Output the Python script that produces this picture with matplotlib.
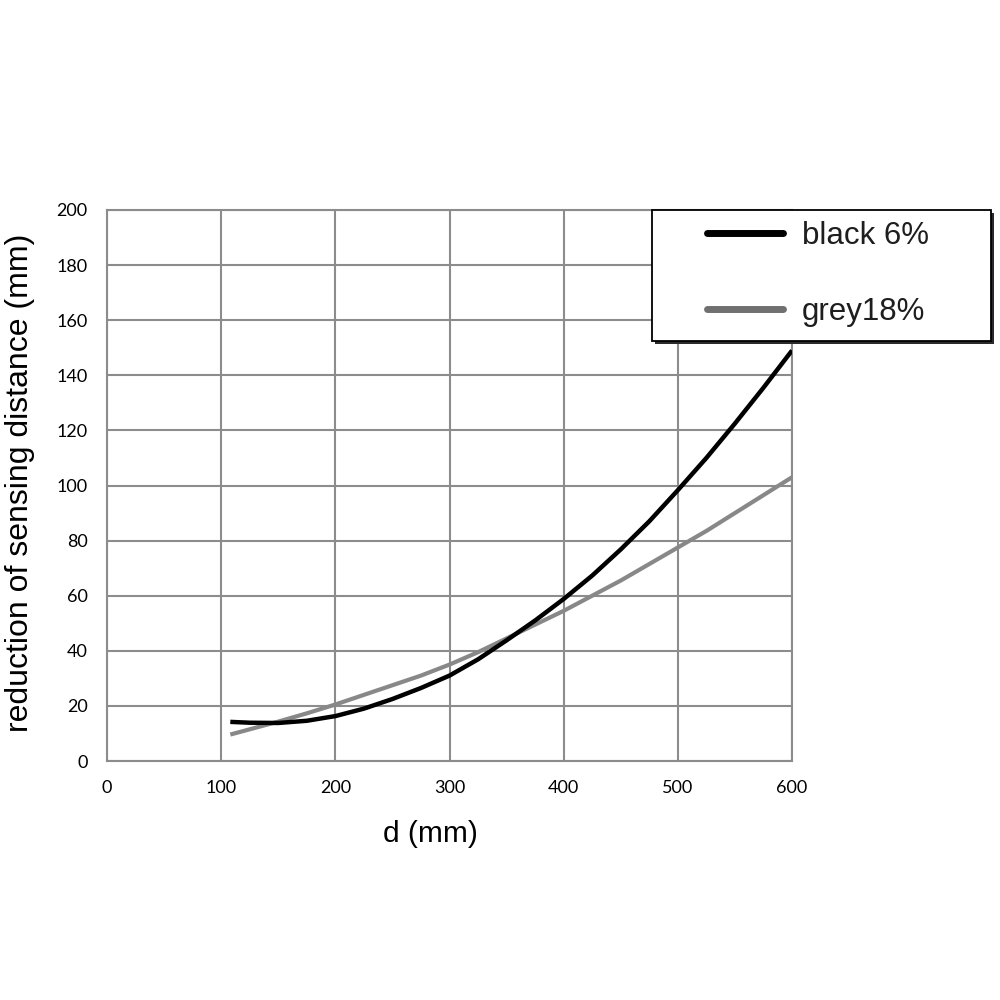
import matplotlib
matplotlib.use("Agg")
import matplotlib.pyplot as plt
from matplotlib.patches import Rectangle
from matplotlib.lines import Line2D

# Data
d_black = [108, 125, 150, 175, 200, 225, 250, 275, 300, 325, 350, 375, 400, 425, 450, 475, 500, 525, 550, 575, 600]
black_6 = [14.2, 13.9, 13.8, 14.6, 16.3, 19.0, 22.5, 26.5, 31.0, 36.9, 43.8, 51.0, 58.8, 67.3, 76.8, 87.0, 98.3, 110.0, 122.5, 135.5, 149.0]
d_grey = [108, 125, 150, 175, 200, 225, 250, 275, 300, 325, 350, 375, 400, 425, 450, 475, 500, 525, 550, 575, 600]
grey_18 = [9.6, 11.5, 14.3, 17.3, 20.5, 24.0, 27.5, 31.0, 35.0, 39.5, 44.5, 49.5, 54.5, 60.0, 65.5, 71.5, 77.5, 83.5, 90.0, 96.5, 103.0]
x_ticks = [0, 100, 200, 300, 400, 500, 600]
y_ticks = [0, 20, 40, 60, 80, 100, 120, 140, 160, 180, 200]
series_names = ["black 6%", "grey18%"]
series_colors = ["#000000", "#707070"]

fig = plt.figure(figsize=(10, 10), dpi=100)
ax = fig.add_axes([0.107, 0.239, 0.685, 0.551])

grid_c = "#8c8c8c"
ax.plot(d_grey, grey_18, color="#888888", lw=3.0, solid_capstyle="butt", zorder=3)
ax.plot(d_black, black_6, color=series_colors[0], lw=3.2, solid_capstyle="butt", zorder=4)

ax.set_xlim(0, 600)
ax.set_ylim(0, 200)
ax.set_xticks(x_ticks)
ax.set_yticks(y_ticks)
ax.grid(True, color=grid_c, lw=1.5)
ax.set_axisbelow(True)
for s in ax.spines.values():
    s.set_color(grid_c)
    s.set_linewidth(1.5)
ax.tick_params(length=0, labelsize=13, pad=14)
for lab in ax.get_xticklabels() + ax.get_yticklabels():
    lab.set_family(["Lato", "DejaVu Sans"])

ax.set_xlabel("d (mm)", fontsize=21.5, family="Liberation Sans")
ax.set_ylabel("reduction of sensing distance (mm)", fontsize=23, family="Liberation Sans")
ax.xaxis.set_label_coords(0.4715, -0.107)
ax.yaxis.set_label_coords(-0.105, 0.505)

# Legend box (manual, figure coordinates)
lx0, ly0, lw_, lh_ = 0.652, 0.659, 0.339, 0.131
shadow = Rectangle((lx0 + 0.003, ly0 - 0.003), lw_, lh_, transform=fig.transFigure,
                   facecolor="#2a2a2a", edgecolor="none", zorder=9)
box = Rectangle((lx0, ly0), lw_, lh_, transform=fig.transFigure,
                facecolor="white", edgecolor="#000000", lw=1.3, zorder=10)
fig.add_artist(shadow)
fig.add_artist(box)
line_y = [0.767, 0.691]
text_base = [0.756, 0.680]
for name, col, yy, yb in zip(series_names, series_colors, line_y, text_base):
    fig.add_artist(Line2D([0.707, 0.783], [yy, yy], transform=fig.transFigure,
                          color=col, lw=5.0, solid_capstyle="round", zorder=11))
    fig.text(0.802, yb, name, fontsize=22.5, family="Liberation Sans",
             va="baseline", ha="left", color="#1e1e1e", zorder=11)

fig.savefig("out.png", dpi=100)
